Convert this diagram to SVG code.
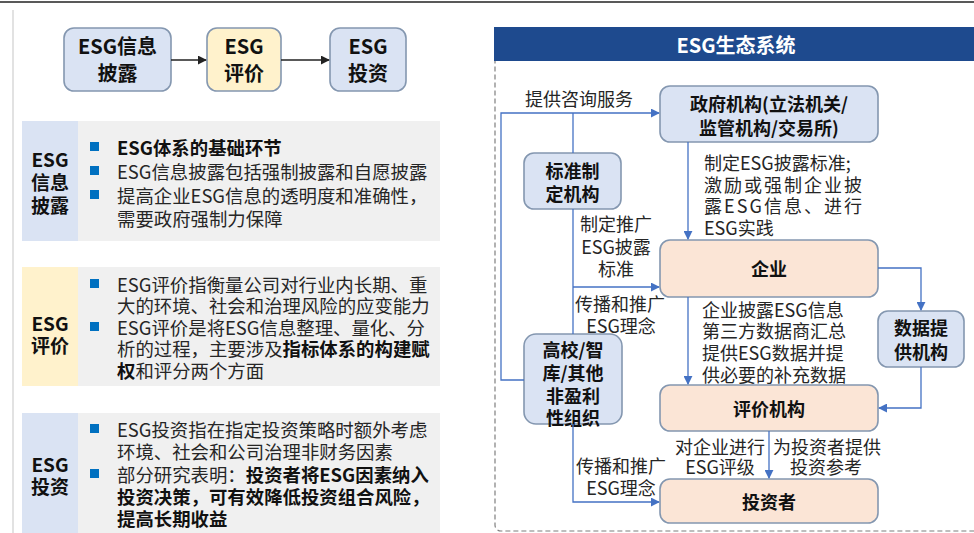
<svg xmlns="http://www.w3.org/2000/svg" width="974" height="533" viewBox="0 0 974 533">
<defs>
<style>
text{font-family:"Noto Sans CJK SC","Noto Sans",sans-serif;fill:#262626;dominant-baseline:central}
.b{font-weight:bold;fill:#111}
.f18{font-size:18px}
.lp{font-size:18.4px}
.f19{font-size:19px}
.f20{font-size:20px}
.blue{fill:#dae3f3;stroke:#8497b0;stroke-width:1.6}
.peach{fill:#fbe5d6;stroke:#8497b0;stroke-width:1.6}
.yel{fill:#fff2cc;stroke:#8497b0;stroke-width:1.6}
.c{fill:none;stroke:#4472c4;stroke-width:1.3}
.k{fill:none;stroke:#222;stroke-width:1.3}
.bul{fill:#0070c0}
.mid{text-anchor:middle}
</style>
<marker id="ab" viewBox="0 0 10 10" refX="9" refY="5" markerWidth="9" markerHeight="9" markerUnits="userSpaceOnUse" orient="auto"><path d="M0,0 L10,5 L0,10 z" fill="#4472c4"/></marker>
<marker id="ak" viewBox="0 0 10 10" refX="9" refY="5" markerWidth="9" markerHeight="9" markerUnits="userSpaceOnUse" orient="auto"><path d="M0,0 L10,5 L0,10 z" fill="#222"/></marker>
</defs>
<rect width="974" height="533" fill="#fff"/>
<line x1="0" y1="2" x2="974" y2="2" stroke="#222" stroke-width="1.5"/>
<line x1="13" y1="10" x2="13" y2="533" stroke="#cfcfcf" stroke-width="1.2"/>

<!-- top flow -->
<g id="top-disclosure"><rect class="blue" x="64" y="28" width="107" height="63" rx="10"/><text class="b f20 mid" x="117.5" y="45">ESG信息</text><text class="b f20 mid" x="117.5" y="72">披露</text></g>
<g id="top-rating"><rect class="yel" x="207" y="28" width="74" height="63" rx="10"/><text class="b f20 mid" x="244" y="45">ESG</text><text class="b f20 mid" x="244" y="72">评价</text></g>
<g id="top-invest"><rect class="blue" x="330" y="28" width="76" height="63" rx="10"/><text class="b f20 mid" x="368" y="45">ESG</text><text class="b f20 mid" x="368" y="72">投资</text></g>
<g id="top-connectors">
<line class="k" x1="171" y1="60" x2="206" y2="60" marker-end="url(#ak)"/>
<line class="k" x1="281" y1="60" x2="329" y2="60" marker-end="url(#ak)"/>
</g>

<!-- panel 1 -->
<g id="panel-disclosure">
<rect x="22" y="121" width="418" height="120" fill="#f0f0f0"/>
<rect x="22" y="121" width="56" height="120" fill="#dae3f3"/>
<text class="b f19 mid" x="50" y="158">ESG</text>
<text class="b f19 mid" x="50" y="181">信息</text>
<text class="b f19 mid" x="50" y="204">披露</text>
<rect class="bul" x="90" y="142" width="9" height="9"/>
<rect class="bul" x="90" y="166" width="9" height="9"/>
<rect class="bul" x="90" y="190" width="9" height="9"/>
<text class="b lp" x="117" y="147">ESG体系的基础环节</text>
<text class="lp" x="117" y="171">ESG信息披露包括强制披露和自愿披露</text>
<text class="lp" x="117" y="195">提高企业ESG信息的透明度和准确性，</text>
<text class="lp" x="117" y="218">需要政府强制力保障</text>
</g>

<!-- panel 2 -->
<g id="panel-rating">
<rect x="22" y="267" width="418" height="119" fill="#f0f0f0"/>
<rect x="22" y="267" width="56" height="119" fill="#fff2cc"/>
<text class="b f19 mid" x="50" y="322">ESG</text>
<text class="b f19 mid" x="50" y="344">评价</text>
<rect class="bul" x="90" y="279" width="9" height="9"/>
<rect class="bul" x="90" y="322" width="9" height="9"/>
<text class="lp" x="117" y="284">ESG评价指衡量公司对行业内长期、重</text>
<text class="lp" x="117" y="305">大的环境、社会和治理风险的应变能力</text>
<text class="lp" x="117" y="327">ESG评价是将ESG信息整理、量化、分</text>
<text class="lp" x="117" y="348">析的过程，主要涉及<tspan class="b">指标体系的构建赋</tspan></text>
<text class="lp" x="117" y="370"><tspan class="b">权</tspan>和评分两个方面</text>
</g>

<!-- panel 3 -->
<g id="panel-invest">
<rect x="22" y="413" width="418" height="120" fill="#f0f0f0"/>
<rect x="22" y="413" width="56" height="120" fill="#dae3f3"/>
<text class="b f19 mid" x="50" y="463">ESG</text>
<text class="b f19 mid" x="50" y="485">投资</text>
<rect class="bul" x="90" y="424" width="9" height="9"/>
<rect class="bul" x="90" y="469" width="9" height="9"/>
<text class="lp" x="117" y="429">ESG投资指在指定投资策略时额外考虑</text>
<text class="lp" x="117" y="451">环境、社会和公司治理非财务因素</text>
<text class="lp" x="117" y="474">部分研究表明：<tspan class="b">投资者将ESG因素纳入</tspan></text>
<text class="b lp" x="117" y="496">投资决策，可有效降低投资组合风险，</text>
<text class="b lp" x="117" y="518">提高长期收益</text>
</g>

<!-- right panel frame -->
<g id="ecosystem-frame">
<rect x="495" y="28" width="490" height="503" rx="6" fill="none" stroke="#7f7f7f" stroke-width="1.2" stroke-dasharray="5,3"/>
<rect x="494" y="27" width="480" height="34" fill="#1e4a8e"/>
<text class="f20 mid" x="736" y="44" style="font-weight:bold;fill:#fff">ESG生态系统</text>
</g>

<!-- nodes -->
<g id="gov"><rect class="blue" x="660" y="86" width="218" height="56" rx="10"/><text class="b f18 mid" x="769" y="103">政府机构(立法机关/</text><text class="b f18 mid" x="769" y="127">监管机构/交易所)</text></g>
<g id="standard"><rect class="blue" x="524" y="153" width="97" height="56" rx="10"/><text class="b f18 mid" x="572.5" y="170">标准制</text><text class="b f18 mid" x="572.5" y="193">定机构</text></g>
<g id="enterprise"><rect class="peach" x="660" y="240" width="218" height="57" rx="10"/><text class="b f18 mid" x="769" y="268">企业</text></g>
<g id="data"><rect class="blue" x="878" y="311" width="86" height="56" rx="10"/><text class="b f18 mid" x="921" y="327">数据提</text><text class="b f18 mid" x="921" y="351">供机构</text></g>
<g id="rating-agency"><rect class="peach" x="660" y="385" width="218" height="46" rx="10"/><text class="b f18 mid" x="769" y="408">评价机构</text></g>
<g id="academia"><rect class="blue" x="524" y="334" width="98" height="90" rx="12"/><text class="b f18 mid" x="573" y="349">高校/智</text><text class="b f18 mid" x="573" y="372">库/其他</text><text class="b f18 mid" x="573" y="395">非盈利</text><text class="b f18 mid" x="573" y="417">性组织</text></g>
<g id="investor"><rect class="peach" x="660" y="479" width="218" height="44" rx="10"/><text class="b f18 mid" x="769" y="501">投资者</text></g>

<!-- connectors -->
<g id="connectors">
<polyline class="c" points="524,380 501,380 501,113 659,113" marker-end="url(#ab)"/>
<line class="c" x1="573" y1="113" x2="573" y2="153"/>
<line class="c" x1="573" y1="209" x2="573" y2="334"/>
<line class="c" x1="573" y1="287" x2="659" y2="287" marker-end="url(#ab)"/>
<polyline class="c" points="573,424 573,502 659,502" marker-end="url(#ab)"/>
<line class="c" x1="688" y1="142" x2="688" y2="239" marker-end="url(#ab)"/>
<line class="c" x1="688" y1="297" x2="688" y2="384" marker-end="url(#ab)"/>
<polyline class="c" points="878,268 921,268 921,310" marker-end="url(#ab)"/>
<polyline class="c" points="921,367 921,408 879,408" marker-end="url(#ab)"/>
<line class="c" x1="769" y1="431" x2="769" y2="478" marker-end="url(#ab)"/>
</g>

<!-- connector labels -->
<g id="labels">
<text class="f18" x="525" y="98">提供咨询服务</text>
<text class="f18 mid" x="616" y="223">制定推广</text>
<text class="f18 mid" x="616" y="246">ESG披露</text>
<text class="f18 mid" x="616" y="268">标准</text>
<text class="f18 mid" x="620" y="303">传播和推广</text>
<text class="f18 mid" x="621" y="325">ESG理念</text>
<text class="f18 mid" x="621" y="465">传播和推广</text>
<text class="f18 mid" x="621" y="487">ESG理念</text>
<text class="f18" x="704" y="162">制定ESG披露标准;</text>
<text class="f18" x="704" y="184" textLength="158" lengthAdjust="spacing">激励或强制企业披</text>
<text class="f18" x="704" y="205" textLength="158" lengthAdjust="spacing">露ESG信息、进行</text>
<text class="f18" x="704" y="227">ESG实践</text>
<text class="f18" x="702" y="309">企业披露ESG信息</text>
<text class="f18" x="702" y="330">第三方数据商汇总</text>
<text class="f18" x="702" y="352">提供ESG数据并提</text>
<text class="f18" x="702" y="374">供必要的补充数据</text>
<text class="f18 mid" x="720" y="446">对企业进行</text>
<text class="f18 mid" x="720" y="466">ESG评级</text>
<text class="f18 mid" x="827" y="446">为投资者提供</text>
<text class="f18 mid" x="826" y="466">投资参考</text>
</g>
</svg>
